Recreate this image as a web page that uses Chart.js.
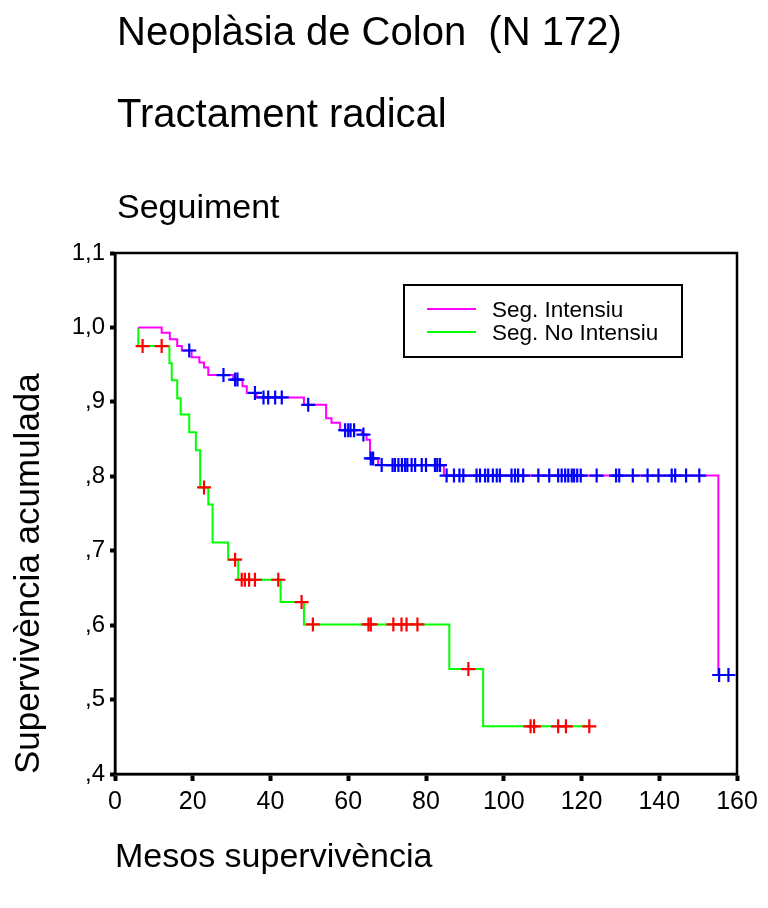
<!DOCTYPE html>
<html>
<head>
<meta charset="utf-8">
<script src="https://cdn.jsdelivr.net/npm/chart.js@4.4.1/dist/chart.umd.min.js"></script>
<style>
  html, body { margin: 0; padding: 0; background: #fff; }
  canvas { display: block; }
</style>
</head>
<body>
<canvas id="grafica" width="768" height="908"></canvas>
<script>
// textos del grafic
const titols = ["Neoplàsia de Colon  (N 172)", "Tractament radical"];
const subtitol = "Seguiment";
const titolX = "Mesos supervivència";
const titolY = "Supervivència acumulada";
const etiquetesLlegenda = ["Seg. Intensiu", "Seg. No Intensiu"];

// Seg. Intensiu: mesos de cada esglao i supervivencia despres de l'esglao
const tempsIntensiu = [6.0, 12.0, 14.1, 16.0, 17.2, 19.7, 21.7, 22.9, 24.0, 30.4, 32.8, 33.9, 36.4, 48.6, 54.3, 55.7, 57.9, 63.5, 64.7, 65.6, 67.7, 84.6, 155.2, 157.8];
const survIntensiu = [1.0, 0.993, 0.984, 0.975, 0.969, 0.960, 0.953, 0.946, 0.936, 0.930, 0.921, 0.912, 0.906, 0.896, 0.878, 0.872, 0.862, 0.856, 0.849, 0.824, 0.815, 0.801, 0.533, 0.533];
// casos censurats (mesos)
const censuresIntensiu = [19.1, 27.9, 30.9, 31.5, 36.0, 38.2, 39.4, 41.2, 42.9, 49.7, 59.2, 60.0, 60.6, 61.5, 63.9, 65.8, 66.4, 68.6, 71.4, 72.0, 72.9, 73.8, 74.6, 75.2, 76.3, 77.2, 78.9, 80.0, 82.3, 82.9, 83.6, 85.3, 87.2, 88.6, 89.6, 93.0, 93.9, 95.2, 96.0, 97.2, 98.2, 99.0, 102.0, 102.9, 103.7, 105.0, 108.9, 111.7, 114.0, 114.9, 115.8, 116.6, 117.5, 118.1, 118.9, 119.8, 123.9, 128.9, 129.7, 133.2, 137.0, 139.8, 143.2, 144.1, 146.9, 150.3, 155.4, 157.8];

// Seg. No Intensiu
const tempsNoIntensiu = [6.0, 6.0, 14.0, 14.6, 16.0, 16.9, 19.1, 20.8, 21.9, 24.0, 25.1, 29.1, 31.7, 42.6, 48.6, 86.0, 94.7, 122.0];
const survNoIntensiu = [1.0, 0.975, 0.952, 0.929, 0.905, 0.883, 0.859, 0.835, 0.785, 0.762, 0.711, 0.688, 0.661, 0.631, 0.601, 0.541, 0.464, 0.464];
const censuresNoIntensiu = [7.1, 12.0, 22.9, 30.9, 32.6, 33.4, 34.5, 36.0, 42.0, 48.0, 50.9, 65.2, 65.8, 71.6, 73.7, 75.0, 77.8, 90.9, 106.9, 107.8, 114.0, 116.0, 122.0];

// eixos
const eixX = { min: 0, max: 160, pas: 20 };
const eixY = { min: 0.4, max: 1.1, pas: 0.1 };

// colors
const colorIntensiu = "#ff00ff";
const colorNoIntensiu = "#00ff00";
const colorCensIntensiu = "#0000ff";
const colorCensNoIntensiu = "#ff0000";

//busca el valor de la corba en un temps (per posar la creu sobre la linia)
function valorCorba(temps, surv, t) {
  let v = surv[0];
  for (let i = 0; i < temps.length; i++) {
    if (temps[i] <= t) v = surv[i];
  }
  return v;
}

const corba = (temps, surv) => temps.map((t, i) => ({ x: t, y: surv[i] }));
const creus = (cens, temps, surv) => cens.map((t) => ({ x: t, y: valorCorba(temps, surv, t) }));

//etiquetes de l'eix y amb coma: 1,0 ,9 ,8 ...
function etiquetaY(v) {
  const s = Number(v).toFixed(1).replace(".", ",");
  return s.startsWith("0") ? s.slice(1) : s;
}

const FONT = "'Liberation Sans', Arial, Helvetica, sans-serif";
Chart.defaults.font.family = FONT;
Chart.defaults.color = "#000";

//titols de dalt, marc i llegenda
const extres = {
  id: "extres",
  afterDraw(chart) {
    const ctx = chart.ctx;
    const a = chart.chartArea;
    ctx.save();
    ctx.fillStyle = "#000";
    ctx.textAlign = "left";
    ctx.textBaseline = "alphabetic";
    ctx.font = `40px ${FONT}`;
    ctx.fillText(titols[0], 117, 45);
    ctx.fillText(titols[1], 117, 127);
    ctx.font = `34px ${FONT}`;
    ctx.fillText(subtitol, 117, 218);

    // marc
    ctx.strokeStyle = "#000";
    ctx.lineWidth = 2.5;
    ctx.strokeRect(a.left, a.top, a.right - a.left, a.bottom - a.top);

    // llegenda
    const lx = 404, ly = 285, lw = 278, lh = 72;
    ctx.fillStyle = "#fff";
    ctx.fillRect(lx, ly, lw, lh);
    ctx.lineWidth = 2;
    ctx.strokeRect(lx, ly, lw, lh);
    const colors = [colorIntensiu, colorNoIntensiu];
    const ys = [309, 332];
    ctx.font = `22.5px ${FONT}`;
    etiquetesLlegenda.forEach((txt, i) => {
      ctx.strokeStyle = colors[i];
      ctx.lineWidth = 2;
      ctx.beginPath();
      ctx.moveTo(427, ys[i]);
      ctx.lineTo(476, ys[i]);
      ctx.stroke();
      ctx.save();
      ctx.beginPath();
      ctx.rect(lx, ly, lw, 61);
      ctx.clip();
      ctx.fillStyle = "#000";
      ctx.fillText(txt, 492, ys[i] + 8);
      ctx.restore();
    });
    ctx.restore();
  },
};

const grafica = document.getElementById("grafica");
new Chart(grafica, {
  type: "scatter",
  data: {
    datasets: [
      {
        label: "cens intensiu",
        data: creus(censuresIntensiu, tempsIntensiu, survIntensiu),
        pointStyle: "cross",
        pointRadius: 7,
        borderWidth: 2.2,
        borderColor: colorCensIntensiu,
        showLine: false,
      },
      {
        label: "cens no intensiu",
        data: creus(censuresNoIntensiu, tempsNoIntensiu, survNoIntensiu),
        pointStyle: "cross",
        pointRadius: 7,
        borderWidth: 2.2,
        borderColor: colorCensNoIntensiu,
        showLine: false,
      },
      {
        label: etiquetesLlegenda[0],
        data: corba(tempsIntensiu, survIntensiu),
        showLine: true,
        stepped: true,
        borderColor: colorIntensiu,
        borderWidth: 2,
        pointRadius: 0,
        fill: false,
      },
      {
        label: etiquetesLlegenda[1],
        data: corba(tempsNoIntensiu, survNoIntensiu),
        showLine: true,
        stepped: true,
        borderColor: colorNoIntensiu,
        borderWidth: 2,
        pointRadius: 0,
        fill: false,
      },
    ],
  },
  options: {
    responsive: false,
    animation: false,
    devicePixelRatio: 1,
    events: [],
    layout: { padding: { top: 253, right: 31, left: 0, bottom: 0 } },
    plugins: { legend: { display: false }, tooltip: { enabled: false } },
    scales: {
      x: {
        type: "linear",
        min: eixX.min,
        max: eixX.max,
        ticks: { stepSize: eixX.pas, font: { size: 25 }, padding: 6, maxRotation: 0, color: "#000" },
        grid: { drawOnChartArea: false, drawTicks: true, tickLength: 7, tickWidth: 4, tickColor: "#000" },
        border: { display: true, color: "#000", width: 2.5 },
        title: { display: true, text: titolX, align: "start", font: { size: 34 }, color: "#000", padding: { top: 0, bottom: 30 } },
        afterFit: (scale) => { scale.height = 134; },
      },
      y: {
        type: "linear",
        min: eixY.min,
        max: eixY.max,
        ticks: { stepSize: eixY.pas, font: { size: 24 }, padding: 5, color: "#000", callback: etiquetaY },
        grid: { drawOnChartArea: false, drawTicks: true, tickLength: 5, tickWidth: 4, tickColor: "#000" },
        border: { display: true, color: "#000", width: 2.5 },
        title: { display: true, text: titolY, align: "start", font: { size: 35 }, color: "#000", padding: { top: 8, bottom: 0 } },
        afterFit: (scale) => { scale.width = 115; },
      },
    },
  },
  plugins: [extres],
});
</script>
</body>
</html>
